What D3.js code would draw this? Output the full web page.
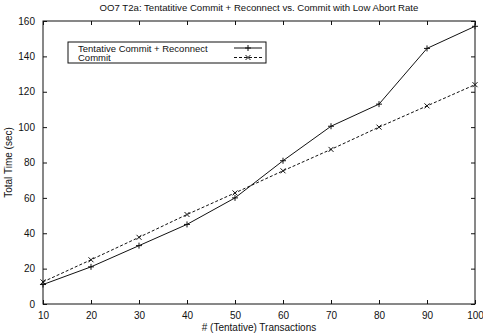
<!DOCTYPE html>
<html>
<head>
<meta charset="utf-8">
<script src="https://cdn.jsdelivr.net/npm/d3@7"></script>
<style>
  body { margin: 0; background: #fff; }
  text { font-family: "Liberation Sans", Arial, sans-serif; fill: #111; }
</style>
</head>
<body>
<svg id="chart" width="483" height="336"></svg>
<script>
var transactions = [10, 20, 30, 40, 50, 60, 70, 80, 90, 100];
var tentative = [11, 21, 33, 45, 60, 81, 100.5, 113, 144.5, 157];
var commit = [12.5, 25, 37.7, 50.6, 62.8, 75.3, 87.4, 100, 112, 124];
var yTicks = [0, 20, 40, 60, 80, 100, 120, 140, 160];
var seriesNames = ["Tentative Commit + Reconnect", "Commit"];

var svg = d3.select("#chart");
var pLeft = 43, pRight = 475, pTop = 21, pBottom = 304;

var x = d3.scaleLinear().domain([10, 100]).range([pLeft, pRight]);
var y = d3.scaleLinear().domain([0, 160]).range([pBottom, pTop]);

// frame
svg.append("rect")
  .attr("x", pLeft).attr("y", pTop)
  .attr("width", pRight - pLeft).attr("height", pBottom - pTop)
  .attr("fill", "none").attr("stroke", "#111").attr("stroke-width", 1);

// axes, ticks inward
var tl = 4;
svg.append("g").attr("transform", "translate(0," + pBottom + ")")
  .call(d3.axisBottom(x).tickValues(transactions).tickSize(-tl).tickPadding(8))
  .call(function(g){ g.select(".domain").remove(); g.selectAll("text").attr("font-size", 10).attr("dy", "0.71em"); });
svg.append("g").attr("transform", "translate(0," + pTop + ")")
  .call(d3.axisTop(x).tickValues(transactions).tickSize(-tl).tickFormat(""))
  .call(function(g){ g.select(".domain").remove(); });
svg.append("g").attr("transform", "translate(" + pLeft + ",0)")
  .call(d3.axisLeft(y).tickValues(yTicks).tickSize(-tl).tickPadding(8))
  .call(function(g){ g.select(".domain").remove(); g.selectAll("text").attr("font-size", 10); });
svg.append("g").attr("transform", "translate(" + pRight + ",0)")
  .call(d3.axisRight(y).tickValues(yTicks).tickSize(-tl).tickFormat(""))
  .call(function(g){ g.select(".domain").remove(); });
svg.selectAll(".tick line").attr("stroke", "#111");

// titles
svg.append("text").attr("x", 259).attr("y", 11).attr("text-anchor", "middle")
  .attr("font-size", 9.6).text("OO7 T2a: Tentatitive Commit + Reconnect vs. Commit with Low Abort Rate");
svg.append("text").attr("x", 259).attr("y", 331).attr("text-anchor", "middle")
  .attr("font-size", 10).text("# (Tentative) Transactions");
svg.append("text").attr("transform", "translate(12," + ((pTop + pBottom) / 2) + ") rotate(-90)")
  .attr("text-anchor", "middle").attr("font-size", 10).text("Total Time (sec)");

var line = d3.line().x(function(d, i){ return x(transactions[i]); }).y(function(d){ return y(d); });

function plus(g, cx, cy) {
  g.append("path").attr("d", "M" + (cx - 3) + "," + cy + "h6M" + cx + "," + (cy - 3) + "v6")
    .attr("stroke", "#111").attr("fill", "none");
}
function cross(g, cx, cy) {
  g.append("path").attr("d", "M" + (cx - 2.5) + "," + (cy - 2.5) + "l5,5M" + (cx - 2.5) + "," + (cy + 2.5) + "l5,-5")
    .attr("stroke", "#111").attr("fill", "none");
}

svg.append("path").datum(tentative).attr("d", line)
  .attr("fill", "none").attr("stroke", "#111").attr("stroke-width", 1);
svg.append("path").datum(commit).attr("d", line)
  .attr("fill", "none").attr("stroke", "#111").attr("stroke-width", 1).attr("stroke-dasharray", "3,2");

var marks = svg.append("g");
tentative.forEach(function(d, i){ plus(marks, x(transactions[i]), y(d)); });
commit.forEach(function(d, i){ cross(marks, x(transactions[i]), y(d)); });

// legend
var lg = svg.append("g");
lg.append("rect").attr("x", 68).attr("y", 42).attr("width", 198).attr("height", 21)
  .attr("fill", "#fff").attr("stroke", "#111");
lg.append("text").attr("x", 78).attr("y", 51.5).attr("font-size", 9.5).text(seriesNames[0]);
lg.append("text").attr("x", 78).attr("y", 61).attr("font-size", 9.5).text(seriesNames[1]);
lg.append("line").attr("x1", 234).attr("x2", 262).attr("y1", 48).attr("y2", 48).attr("stroke", "#111");
plus(lg, 248, 48);
lg.append("line").attr("x1", 234).attr("x2", 262).attr("y1", 57.5).attr("y2", 57.5).attr("stroke", "#111").attr("stroke-dasharray", "3,2");
cross(lg, 248, 57.5);
</script>
</body>
</html>
